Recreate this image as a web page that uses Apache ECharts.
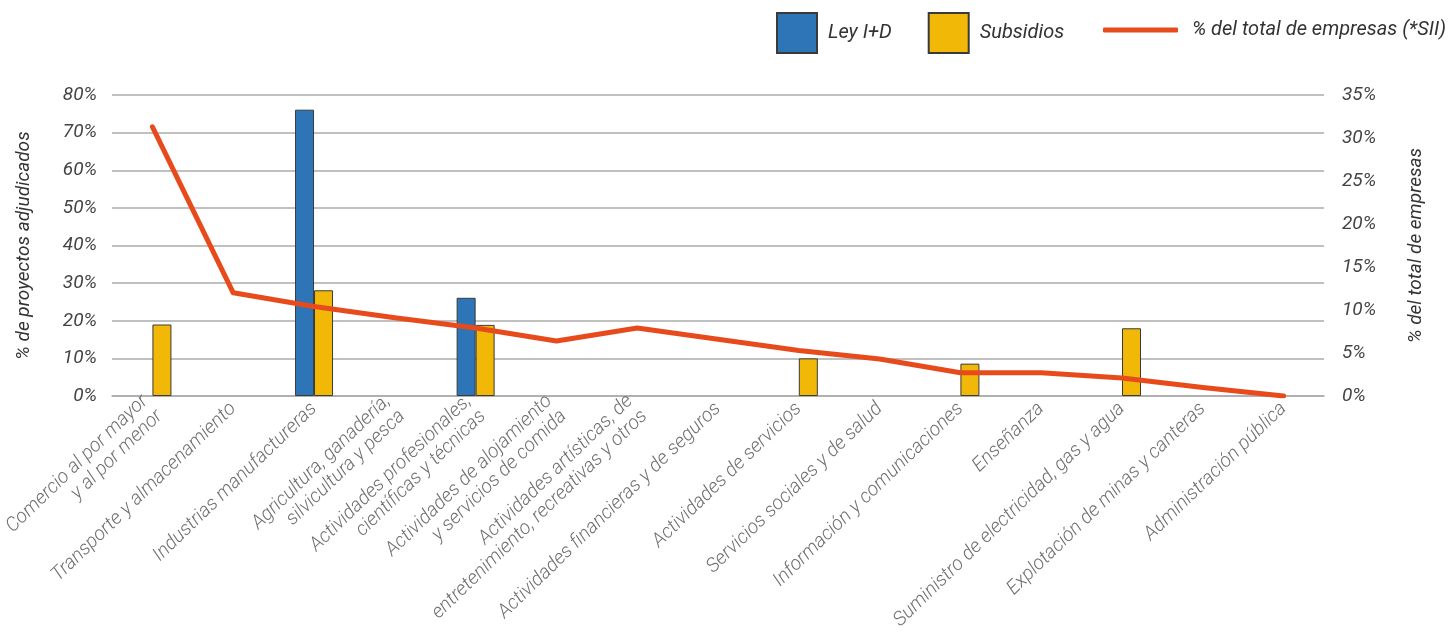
<!DOCTYPE html>
<html>
<head>
<meta charset="utf-8">
<script src="https://cdn.jsdelivr.net/npm/echarts@6/dist/echarts.min.js"></script>
<style>
html,body{margin:0;padding:0;background:#fff;}
#chart{width:1455px;height:644px;}
</style>
</head>
<body>
<div id="chart"></div>
<script>
const categories = [
  'Comercio al por mayor\ny al por menor',
  'Transporte y almacenamiento',
  'Industrias manufactureras',
  'Agricultura, ganadería,\nsilvicultura y pesca',
  'Actividades profesionales,\ncientíficas y técnicas',
  'Actividades de alojamiento\ny servicios de comida',
  'Actividades artísticas, de\nentretenimiento, recreativas y otros',
  'Actividades financieras y de seguros',
  'Actividades de servicios',
  'Servicios sociales y de salud',
  'Información y comunicaciones',
  'Enseñanza',
  'Suministro de electricidad, gas y agua',
  'Explotación de minas y canteras',
  'Administración pública'
];
const leyID =     [null, null, 76.1, null, 26.1, null, null, null, null, null, null, null, null, null, null];
const subsidios = [19, null, 28.1, null, 18.9, null, null, null, 10, null, 8.6, null, 18, null, null];
const totalEmpresas = [31.3, 12.0, 10.4, 9.1, 7.9, 6.4, 7.9, 6.6, 5.3, 4.3, 2.7, 2.7, 2.1, 1.0, 0];
const leftTicks = {min: 0, max: 80, interval: 10};
const rightTicks = {min: 0, max: 35, interval: 5};

const FONT = 'Roboto';
const chart = echarts.init(document.getElementById('chart'));
chart.setOption({
  animation: false,
  backgroundColor: '#ffffff',
  legend: [
    {
      left: 776, top: 12, padding: 0,
      itemWidth: 40, itemHeight: 40, itemGap: 36,
      data: [
        {name: 'Ley I+D', icon: 'rect'},
        {name: 'Subsidios', icon: 'rect'}
      ],
      textStyle: {fontFamily: FONT, fontStyle: 'italic', fontSize: 20, color: '#333', padding: [0,0,0,6]}
    },
    {
      left: 1103, top: 20, padding: 0,
      itemWidth: 75, itemHeight: 5,
      data: [{name: '% del total de empresas (*SII)', icon: 'roundRect'}],
      textStyle: {fontFamily: FONT, fontStyle: 'italic', fontSize: 20, color: '#333', padding: [0,0,0,9]}
    }
  ],
  grid: {left: 109, right: 131, top: 95, bottom: 248},
  xAxis: {
    type: 'category',
    data: categories,
    axisLine: {show: true, lineStyle: {color: '#ababab', width: 1.5}},
    axisTick: {show: false},
    axisLabel: {
      interval: 0, rotate: 44, margin: 10,
      fontFamily: FONT, fontStyle: 'italic', fontWeight: 300, fontSize: 19.5, color: '#707070',
      lineHeight: 21
    }
  },
  yAxis: [
    {
      type: 'value', min: leftTicks.min, max: leftTicks.max, interval: leftTicks.interval,
      name: '% de proyectos adjudicados', nameLocation: 'middle', nameGap: 78,
      nameTextStyle: {fontFamily: FONT, fontStyle: 'italic', fontSize: 19, color: '#333'},
      axisLine: {show: false}, axisTick: {show: false},
      axisLabel: {formatter: '{value}%', margin: 15, fontFamily: FONT, fontStyle: 'italic', fontSize: 19, color: '#444'},
      splitLine: {lineStyle: {color: '#ababab', width: 1.5}}
    },
    {
      type: 'value', min: rightTicks.min, max: rightTicks.max, interval: rightTicks.interval,
      name: '% del total de empresas', nameLocation: 'middle', nameGap: 83,
      nameTextStyle: {fontFamily: FONT, fontStyle: 'italic', fontSize: 19, color: '#333'},
      axisLine: {show: false}, axisTick: {show: false},
      axisLabel: {formatter: '{value}%', margin: 18, fontFamily: FONT, fontStyle: 'italic', fontSize: 19, color: '#444'},
      splitLine: {show: false}
    }
  ],
  series: [
    {
      name: 'Ley I+D', type: 'bar', yAxisIndex: 0, data: leyID,
      barWidth: 19, barGap: '0%',
      itemStyle: {color: '#2E75B8', borderColor: '#3a3a3a', borderWidth: 1}
    },
    {
      name: 'Subsidios', type: 'bar', yAxisIndex: 0, data: subsidios,
      barWidth: 19, barGap: '0%',
      itemStyle: {color: '#F2B807', borderColor: '#3a3a3a', borderWidth: 1}
    },
    {
      name: '% del total de empresas (*SII)', type: 'line', yAxisIndex: 1, data: totalEmpresas,
      symbol: 'none', smooth: false,
      lineStyle: {color: '#E84B1B', width: 5, cap: 'round', join: 'round'},
      itemStyle: {color: '#E84B1B'}
    }
  ]
});
</script>
</body>
</html>
